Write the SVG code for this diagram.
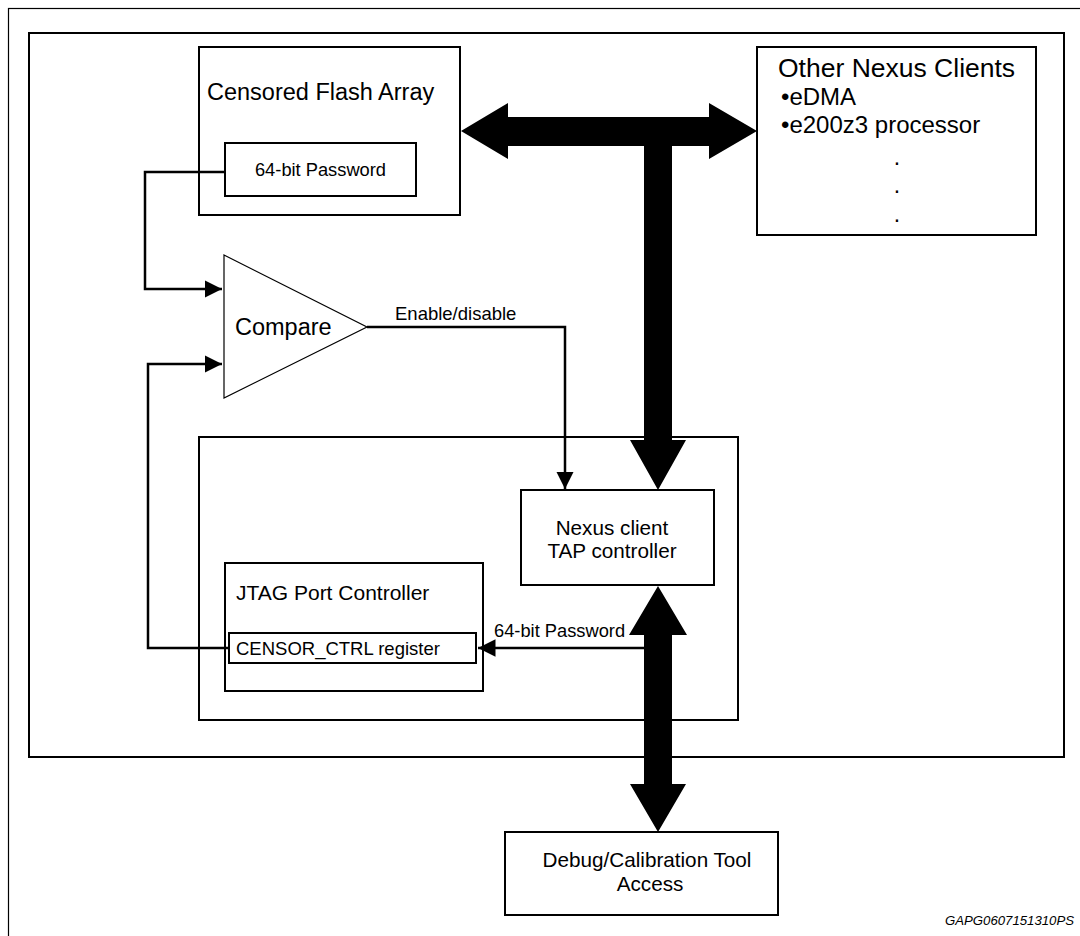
<svg xmlns="http://www.w3.org/2000/svg" width="1080" height="936" viewBox="0 0 1080 936">
<defs>
<style>
.box{fill:#fff;stroke:#000;stroke-width:2}
.wire{fill:none;stroke:#000;stroke-width:2.5}
.bus{fill:#000;stroke:none}
.t{font-family:"Liberation Sans",Arial,sans-serif;fill:#000}
</style>
<marker id="ah" viewBox="0 0 10 10" refX="10" refY="5" markerWidth="7" markerHeight="7" markerUnits="strokeWidth" orient="auto">
<path d="M0,0 L10,5 L0,10 Z" fill="#000"/>
</marker>
</defs>
<rect width="1080" height="936" fill="#fff"/>
<rect id="outer-frame" x="8.5" y="8.5" width="1090" height="940" fill="none" stroke="#000" stroke-width="1.2"/>
<rect id="chip" x="29" y="33" width="1035" height="724" class="box"/>
<g id="flash">
<rect x="199" y="47" width="261" height="168" class="box"/>
<text x="207" y="100" class="t" font-size="23.5">Censored Flash Array</text>
</g>
<g id="password">
<rect x="225" y="143" width="191" height="53" class="box"/>
<text x="320.5" y="176" class="t" font-size="18.3" text-anchor="middle">64-bit Password</text>
</g>
<g id="other-clients">
<rect x="757" y="47" width="279" height="188" class="box"/>
<text x="778" y="77" class="t" font-size="26.5">Other Nexus Clients</text>
<text x="781" y="105" class="t" font-size="24">•eDMA</text>
<text x="781" y="133" class="t" font-size="24">•e200z3 processor</text>
<text x="897" y="165" class="t" font-size="23" text-anchor="middle">.</text>
<text x="897" y="193" class="t" font-size="23" text-anchor="middle">.</text>
<text x="897" y="222" class="t" font-size="23" text-anchor="middle">.</text>
</g>
<g id="compare">
<polygon points="224,255 367,327 224,398" fill="#fff" stroke="#000" stroke-width="1.2"/>
<text x="235" y="335" class="t" font-size="23.5">Compare</text>
</g>
<g id="debug-block">
<rect x="199" y="437" width="539" height="283" class="box"/>
</g>
<g id="nexus-tap">
<rect x="521" y="490" width="193" height="95" class="box"/>
<text x="612" y="535" class="t" font-size="20.7" text-anchor="middle">Nexus client</text>
<text x="612" y="558" class="t" font-size="20.7" text-anchor="middle">TAP controller</text>
</g>
<g id="jtag">
<rect x="225" y="563" width="258" height="128" class="box"/>
<text x="236" y="600" class="t" font-size="21">JTAG Port Controller</text>
</g>
<g id="censor-ctrl">
<rect x="229" y="633" width="247" height="30" class="box"/>
<text x="236" y="655" class="t" font-size="18.5">CENSOR_CTRL register</text>
</g>
<g id="tool">
<rect x="505" y="832" width="273" height="83" class="box"/>
<text x="647" y="867" class="t" font-size="20.7" text-anchor="middle">Debug/Calibration Tool</text>
<text x="650" y="891" class="t" font-size="20.7" text-anchor="middle">Access</text>
</g>
<g id="connectors">
<path class="bus" d="M461,131 L508,103 L508,117 L709,117 L709,103 L757,131 L709,159 L709,146 L672,146 L672,440 L686,440 L658,490 L630,440 L644,440 L644,146 L508,146 L508,159 Z"/>
<path class="bus" d="M658,586 L687,635 L672,635 L672,784 L686,784 L658,832 L630,784 L644,784 L644,635 L629,635 Z"/>
<path class="wire" d="M225,172 H145 V289 H222" marker-end="url(#ah)"/>
<path class="wire" d="M229,648 H148 V364 H222" marker-end="url(#ah)"/>
<path class="wire" d="M367,327 H565 V489" marker-end="url(#ah)"/>
<path class="wire" d="M644,648 H478" marker-end="url(#ah)"/>
<text x="395" y="320" class="t" font-size="18.5">Enable/disable</text>
<text x="494" y="637" class="t" font-size="18.3">64-bit Password</text>
</g>
<text x="1074" y="925" class="t" font-size="13.2" font-style="italic" text-anchor="end">GAPG0607151310PS</text>
</svg>
